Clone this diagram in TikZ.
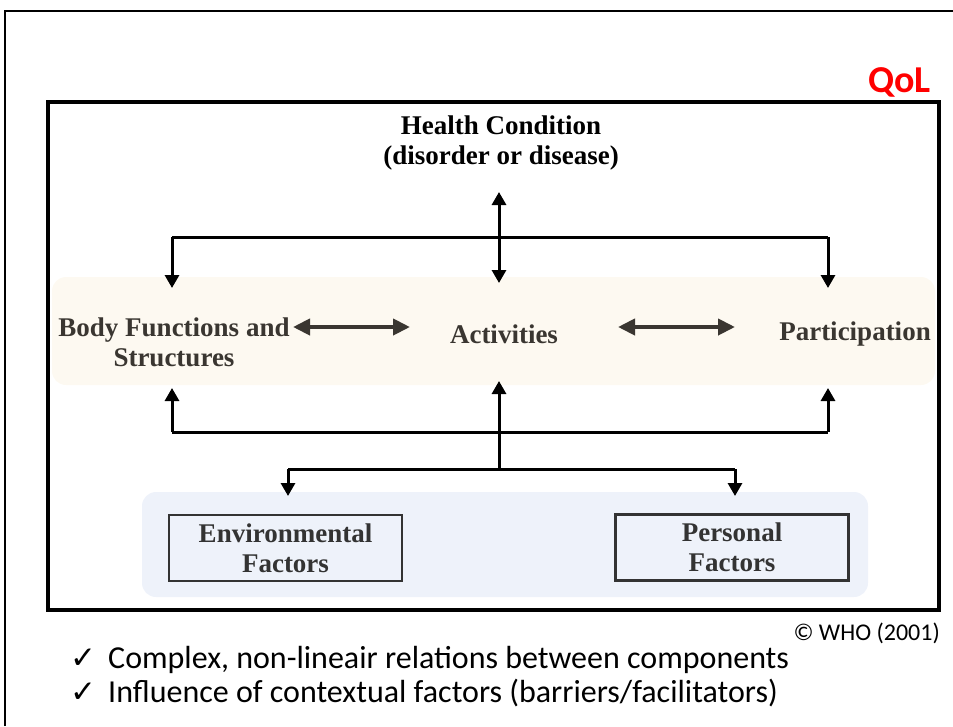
\documentclass[tikz,border=0pt]{standalone}
\usepackage{fontspec}
\setmainfont{Liberation Serif}
\newfontfamily\calfont{Carlito}
\newfontfamily\djfont{DejaVu Sans}
\usetikzlibrary{arrows.meta}
\definecolor{bandA}{HTML}{FDF9F1}
\definecolor{bandB}{HTML}{EEF2FA}
\definecolor{ink}{HTML}{3A3631}
\definecolor{boxink}{HTML}{333333}
\begin{document}
\begin{tikzpicture}[x=1pt,y=-1pt,
  lbl/.style={font=\fontsize{27}{30}\selectfont\bfseries, align=center, inner sep=0pt},
  fbox/.style={lbl, draw=boxink, text=boxink, line width=2.5pt, minimum width=233pt, minimum height=66pt},
  wire/.style={line width=3pt, black},
  arr/.style={wire, -{Triangle[width=14pt,length=13pt]}},
  dbl/.style={wire, {Triangle[width=14pt,length=13pt]}-{Triangle[width=14pt,length=13pt]}},
  hdbl/.style={line width=4pt, ink, {Triangle[width=16pt,length=17pt]}-{Triangle[width=16pt,length=17pt]}},
  bul/.style={anchor=base west, inner sep=0pt, font=\calfont\fontsize{32}{36}\selectfont},
  tick/.style={font=\djfont\fontsize{31}{34}\selectfont}
]
\useasboundingbox (0,0) rectangle (953,726);
% frames and bands
\draw[line width=2.5pt] (5,726) -- (5,11) -- (953,11);
\fill[bandA, rounded corners=14pt] (52,277) rectangle (935,385);
\fill[bandB, rounded corners=14pt] (142,492) rectangle (868,597);
\draw[line width=3.5pt] (48,102) rectangle (939,610);
% labels
\node[anchor=base east, inner sep=0pt, text=red, font=\calfont\bfseries\fontsize{38}{40}\selectfont] (qol) at (931,92) {QoL};
\node[lbl] (hc) at (501,143) {Health Condition\\(disorder or disease)};
\node[lbl, text=ink] (bf) at (174,342) {Body Functions and\\Structures};
\node[lbl, text=ink] (act) at (504,334) {Activities};
\node[lbl, text=ink] (par) at (855,334) {Participation};
\node[fbox] (env) at (285.5,548) {Environmental\\Factors};
\node[fbox] (pers) at (732,547.5) {Personal\\Factors};
\node[anchor=base east, inner sep=0pt, font=\calfont\fontsize{24}{26}\selectfont] (who) at (940,640) {© WHO (2001)};
\node[bul] (b1) at (108,668) {Complex, non-lineair relations between components};
\node[bul] (b2) at (108,702) {Influence of contextual factors (barriers/facilitators)};
\node[tick, anchor=base east, inner sep=0pt] (t1) at (97,668) {✓};
\node[tick, anchor=base east, inner sep=0pt] (t2) at (97,702) {✓};
% coordinates
\coordinate (hcTip) at (499,192);
\coordinate (actTop) at (499,283);
\coordinate (tl) at (172,237);
\coordinate (tr) at (828,237);
\coordinate (bfTop) at (172,288);
\coordinate (parTop) at (828,288);
\coordinate (bl) at (172,432);
\coordinate (br) at (828,432);
\coordinate (bfBot) at (172,388);
\coordinate (parBot) at (828,388);
\coordinate (actBot) at (499,381);
\coordinate (hub) at (499,469);
\coordinate (fl) at (288,469);
\coordinate (fr) at (735,469);
\coordinate (envTop) at (288,496);
\coordinate (persTop) at (735,496);
\coordinate (baL) at (293,327);
\coordinate (baR) at (410,327);
\coordinate (apL) at (618,327);
\coordinate (apR) at (735,327);
% connectors
\draw[dbl] (hcTip) -- (actTop);
\draw[wire] (tl) -- (tr);
\draw[arr] (tl) -- (bfTop);
\draw[arr] (tr) -- (parTop);
\draw[wire] (bl) -- (br);
\draw[arr] (bl) -- (bfBot);
\draw[arr] (br) -- (parBot);
\draw[arr] (hub) -- (actBot);
\draw[wire] (fl) -- (fr);
\draw[arr] (fl) -- (envTop);
\draw[arr] (fr) -- (persTop);
\draw[hdbl] (baL) -- (baR);
\draw[hdbl] (apL) -- (apR);
\end{tikzpicture}
\end{document}
